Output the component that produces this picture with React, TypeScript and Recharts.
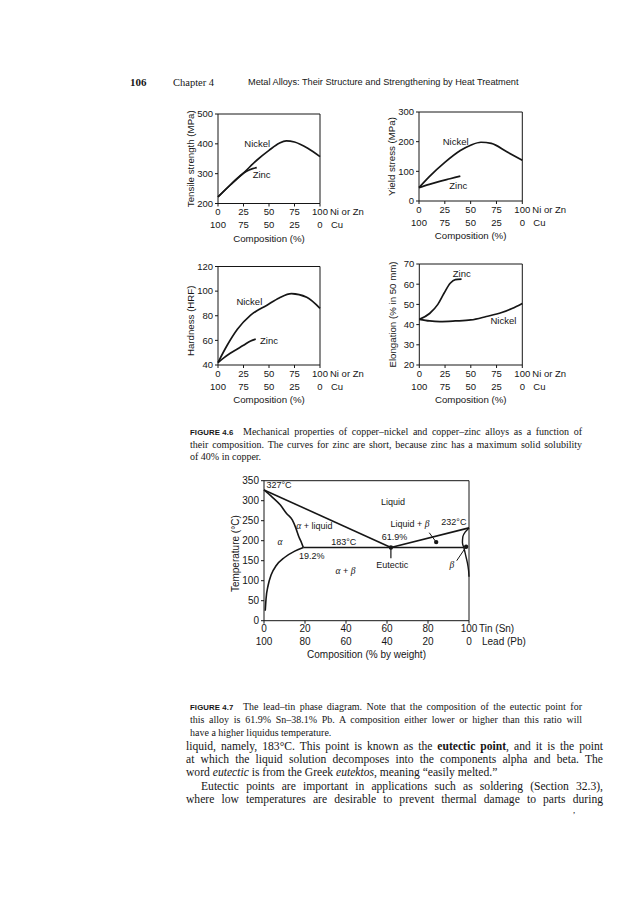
import React from "react";
import { LineChart, Line, XAxis, YAxis, ReferenceLine, ReferenceDot } from "recharts";

const SANS = "'Liberation Sans', Arial, sans-serif";
const SERIF = "'Liberation Serif', 'Times New Roman', serif";
const INK = "#161616";

// composition axis: % Ni or Zn (second row is % Cu)
const compTicks = [0, 25, 50, 75, 100];
// lead-tin axis: % Sn (second row is % Pb)
const snTicks = [0, 20, 40, 60, 80, 100];

const tensileTicks = [200, 300, 400, 500];
const yieldTicks = [0, 100, 200, 300];
const hardnessTicks = [40, 60, 80, 100, 120];
const elongTicks = [20, 30, 40, 50, 60, 70];
const tempTicks = [0, 50, 100, 150, 200, 250, 300, 350];

type P = [number, number];

// [composition %, value]
const tensileNi: P[] = [[0, 222], [12, 262], [25, 302], [38, 345], [50, 378], [60, 402], [67, 410], [75, 406], [88, 385], [100, 357]];
const tensileZn: P[] = [[0, 222], [12, 262], [22, 294], [28, 308], [34, 317], [38, 320]];
const yieldNi: P[] = [[0, 45], [10, 82], [25, 130], [40, 170], [50, 188], [60, 198], [70, 194], [85, 166], [100, 137]];
const yieldZn: P[] = [[0, 45], [10, 56], [20, 66], [30, 75], [40, 84]];
const hardNi: P[] = [[0, 42], [9, 56], [19, 69], [32, 80.5], [48, 88.6], [60, 94.5], [72, 98], [87, 95], [100, 86]];
const hardZn: P[] = [[0, 42], [6, 46], [12, 49.5], [25, 56], [32, 59.5], [37, 61]];
const elongNi: P[] = [[0, 42.6], [10, 41.8], [20, 41.5], [35, 41.8], [50, 42.3], [65, 44], [80, 46], [90, 48], [100, 50.5]];
const elongZn: P[] = [[0, 42.6], [10, 45.5], [18, 50], [24, 55.5], [30, 60.5], [35, 62.3], [41, 62.5]];

// lead-tin phase boundaries, [% Sn, deg C]
const liquidusLeft: P[] = [[0, 327], [61.9, 183]];
const liquidusRight: P[] = [[61.9, 183], [100, 232]];
const solidusLeft: P[] = [[0, 327], [4, 309], [8, 289], [11, 268], [13.8, 252], [15.5, 232], [17, 210], [18.3, 195], [19.2, 183]];
const eutecticLine: P[] = [[19.2, 183], [97.5, 183]];
const solvusLeft: P[] = [[0.6, 25], [1, 55], [2, 88], [3.5, 115], [6, 138], [10, 158], [15, 174], [19.2, 183]];
const solidusRight: P[] = [[97.5, 183], [96.8, 195], [97, 210], [98.2, 222], [100, 232]];
const solvusRight: P[] = [[100, 110], [99.8, 125], [99.2, 145], [98.3, 165], [97.5, 183]];
const eutecticStem: P[] = [[61.9, 183], [61.9, 156]];
const pointerLiquid: P[] = [[80.6, 220], [84, 196.5]];
const pointerBeta: P[] = [[94, 150], [98.5, 184]];
const phaseDots: P[] = [[61.9, 183], [84, 196.5], [98.6, 185]];

const toPts = (a: P[]) => a.map(([c, v]) => ({ c, v }));

function CompTick(props: any) {
  const { x, y, payload, end1, end2, fs, dx1, dx2 } = props;
  const v = Number(payload.value);
  const common = { fontSize: fs, fill: INK, fontFamily: SANS, dominantBaseline: "central" as const };
  return (
    <g>
      <text x={x} y={y + 5} textAnchor="middle" {...common}>{v}</text>
      <text x={x} y={y + 18} textAnchor="middle" {...common}>{100 - v}</text>
      {v === 100 && (
        <>
          <text x={x + dx1} y={y + 5} {...common}>{end1}</text>
          <text x={x + dx2} y={y + 18} {...common}>{end2}</text>
        </>
      )}
    </g>
  );
}

type Tag = { c: number; v: number; parts: [string, boolean][] };

const tagLabel = (parts: [string, boolean][], fs: number) => (lp: any) => {
  const vb = lp.viewBox || {};
  const x = (vb.x ?? vb.cx ?? 0) + (vb.width || 0) / 2;
  const y = (vb.y ?? vb.cy ?? 0) + (vb.height || 0) / 2;
  return (
    <text x={x} y={y} textAnchor="middle" dominantBaseline="central" fontSize={fs} fontFamily={SANS} fill={INK}>
      {parts.map(([s, it], i) =>
        it ? (
          <tspan key={i} fontFamily={SERIF} fontStyle="italic" fontSize={fs + 0.5}>{s}</tspan>
        ) : (
          <tspan key={i}>{s}</tspan>
        )
      )}
    </text>
  );
};

const Y_W = 40;
const X_H = 40;

type PanelProps = {
  left: number;
  top: number;
  width: number;
  height: number;
  plot: [number, number, number, number];
  yDomain: [number, number];
  yTicks: number[];
  yTitle: string;
  yTitleX: number;
  yTitleDy?: number;
  curves: P[][];
  tags: Tag[];
};

function Panel(p: PanelProps) {
  const [L, T, R, B] = p.plot;
  const margin = {
    left: L - p.left - Y_W,
    top: T - p.top,
    right: p.left + p.width - R,
    bottom: p.top + p.height - B - X_H,
  };
  const midY = (T + B) / 2 - p.top + (p.yTitleDy || 0);
  const midX = (L + R) / 2 - p.left;
  const bottomY = B - p.top;
  return (
    <div style={{ position: "absolute", left: p.left, top: p.top }}>
      <LineChart width={p.width} height={p.height} margin={margin}>
        <XAxis
          dataKey="c"
          type="number"
          domain={[0, 100]}
          ticks={compTicks}
          interval={0}
          tickSize={3}
          tickMargin={0}
          height={X_H}
          axisLine={{ stroke: INK }}
          tickLine={{ stroke: INK }}
          tick={<CompTick end1="Ni or Zn" end2="Cu" fs={9.5} dx1={10} dx2={11} />}
          label={() => (
            <text x={midX} y={bottomY + 34.5} textAnchor="middle" dominantBaseline="central" fontSize={9.7} fontFamily={SANS} fill={INK}>
              Composition (%)
            </text>
          )}
        />
        <YAxis
          type="number"
          domain={p.yDomain}
          ticks={p.yTicks}
          interval={0}
          width={Y_W}
          tickSize={3}
          tickMargin={2}
          axisLine={{ stroke: INK }}
          tickLine={{ stroke: INK }}
          tick={{ fontSize: 9.5, fill: INK, fontFamily: SANS }}
          label={() => (
            <text
              x={p.yTitleX - p.left}
              y={midY}
              transform={`rotate(-90 ${p.yTitleX - p.left} ${midY})`}
              textAnchor="middle"
              dominantBaseline="central"
              fontSize={9.7}
              fontFamily={SANS}
              fill={INK}
            >
              {p.yTitle}
            </text>
          )}
        />
        <ReferenceLine y={p.yDomain[1]} stroke={INK} />
        <ReferenceLine x={100} stroke={INK} />
        {p.curves.map((c, i) => (
          <Line key={i} data={toPts(c)} dataKey="v" type="monotone" stroke={INK} strokeWidth={1.7} dot={false} isAnimationActive={false} />
        ))}
        {p.tags.map((t, i) => (
          <ReferenceDot key={i} x={t.c} y={t.v} r={1} fill="none" stroke="none" label={tagLabel(t.parts, 9.5)} />
        ))}
      </LineChart>
    </div>
  );
}

const phaseTags: Tag[] = [
  { c: 7.3, v: 339, parts: [["327°C", false]] },
  { c: 62.9, v: 297.5, parts: [["Liquid", false]] },
  { c: 24.6, v: 237.5, parts: [["α", true], [" + liquid", false]] },
  { c: 71.2, v: 241.7, parts: [["Liquid + ", false], ["β", true]] },
  { c: 92.6, v: 247.5, parts: [["232°C", false]] },
  { c: 63.7, v: 210, parts: [["61.9%", false]] },
  { c: 38.9, v: 196, parts: [["183°C", false]] },
  { c: 7.8, v: 197.5, parts: [["α", true]] },
  { c: 23.3, v: 161.7, parts: [["19.2%", false]] },
  { c: 62.6, v: 139, parts: [["Eutectic", false]] },
  { c: 39.7, v: 125, parts: [["α", true], [" + ", false], ["β", true]] },
  { c: 91.6, v: 139, parts: [["β", true]] },
];

function PhaseDiagram() {
  const left = 220, top = 470, width = 340, height = 195;
  const [L, T, R, B] = [264, 480.7, 469, 620.7];
  const yw = 30;
  const margin = { left: L - left - yw, top: T - top, right: left + width - R, bottom: top + height - B - X_H };
  const midY = (T + B) / 2 - top;
  const midX = (L + R) / 2 - left;
  const segs: { d: P[]; type: any; w: number }[] = [
    { d: liquidusLeft, type: "linear", w: 1.6 },
    { d: liquidusRight, type: "linear", w: 1.6 },
    { d: solidusLeft, type: "monotone", w: 1.6 },
    { d: eutecticLine, type: "linear", w: 1.7 },
    { d: solvusLeft, type: "monotone", w: 1.6 },
    { d: solidusRight, type: "monotoneY", w: 1.4 },
    { d: solvusRight, type: "monotoneY", w: 1.4 },
    { d: eutecticStem, type: "linear", w: 1.2 },
    { d: pointerLiquid, type: "linear", w: 1 },
    { d: pointerBeta, type: "linear", w: 1 },
  ];
  return (
    <div style={{ position: "absolute", left, top }}>
      <LineChart width={width} height={height} margin={margin}>
        <XAxis
          dataKey="c"
          type="number"
          domain={[0, 100]}
          ticks={snTicks}
          interval={0}
          tickSize={3}
          tickMargin={0}
          height={X_H}
          axisLine={{ stroke: INK }}
          tickLine={{ stroke: INK }}
          tick={<CompTick end1="Tin (Sn)" end2="Lead (Pb)" fs={10} dx1={10} dx2={13} />}
          label={() => (
            <text x={midX} y={B - top + 33.5} textAnchor="middle" dominantBaseline="central" fontSize={10} fontFamily={SANS} fill={INK}>
              Composition (% by weight)
            </text>
          )}
        />
        <YAxis
          type="number"
          domain={[0, 350]}
          ticks={tempTicks}
          interval={0}
          width={yw}
          tickSize={3}
          tickMargin={2}
          axisLine={{ stroke: INK }}
          tickLine={{ stroke: INK }}
          tick={{ fontSize: 10, fill: INK, fontFamily: SANS }}
          label={() => (
            <text
              x={236 - left}
              y={midY + 3}
              transform={`rotate(-90 ${236 - left} ${midY + 3})`}
              textAnchor="middle"
              dominantBaseline="central"
              fontSize={10}
              fontFamily={SANS}
              fill={INK}
            >
              Temperature (°C)
            </text>
          )}
        />
        <ReferenceLine y={350} stroke={INK} />
        <ReferenceLine x={100} stroke={INK} />
        {segs.map((s, i) => (
          <Line key={i} data={toPts(s.d)} dataKey="v" type={s.type} stroke={INK} strokeWidth={s.w} dot={false} isAnimationActive={false} />
        ))}
        {phaseDots.map(([c, v], i) => (
          <ReferenceDot key={"d" + i} x={c} y={v} r={2.2} fill={INK} stroke="none" />
        ))}
        {phaseTags.map((t, i) => (
          <ReferenceDot key={"t" + i} x={t.c} y={t.v} r={1} fill="none" stroke="none" label={tagLabel(t.parts, 9)} />
        ))}
      </LineChart>
    </div>
  );
}

function TextLine({ x, y, w, size, lh = 13, justify = true, family = SERIF, children, style }: any) {
  return (
    <div
      style={{
        position: "absolute",
        left: x,
        top: y - lh / 2,
        width: w,
        fontFamily: family,
        fontSize: size,
        lineHeight: `${lh}px`,
        color: INK,
        textAlign: "left",
        textAlignLast: justify ? "justify" : "left",
        ...style,
      }}
    >
      {children}
    </div>
  );
}

const figTag = (s: string) => (
  <span
    style={{
      display: "inline-block",
      width: 53,
      fontFamily: SANS,
      fontWeight: 700,
      fontSize: 7.8,
      letterSpacing: 0.1,
      textAlign: "left",
      textAlignLast: "left",
      whiteSpace: "nowrap",
    }}
  >
    {s}
  </span>
);

export default function App() {
  return (
    <div style={{ position: "absolute", left: 0, top: 0, width: 636, height: 900, background: "#fff", overflow: "hidden" }}>
      {/* running head */}
      <TextLine x={130} y={82} w={30} size={11} justify={false} style={{ fontWeight: 700 }}>106</TextLine>
      <TextLine x={173} y={82} w={60} size={10.5} justify={false}>Chapter 4</TextLine>
      <TextLine x={248} y={82} w={290} size={9.2} justify={false} family={SANS}>
        Metal Alloys: Their Structure and Strengthening by Heat Treatment
      </TextLine>

      <Panel
        left={150}
        top={100}
        width={225}
        height={150}
        plot={[218, 114, 320, 203.5]}
        yDomain={[200, 500]}
        yTicks={tensileTicks}
        yTitle="Tensile strength (MPa)"
        yTitleX={190}
        curves={[tensileNi, tensileZn]}
        tags={[
          { c: 38.5, v: 404, parts: [["Nickel", false]] },
          { c: 42.8, v: 298, parts: [["Zinc", false]] },
        ]}
      />
      <Panel
        left={355}
        top={100}
        width={265}
        height={150}
        plot={[419, 112, 522.3, 201]}
        yDomain={[0, 300]}
        yTicks={yieldTicks}
        yTitle="Yield stress (MPa)"
        yTitleX={391}
        curves={[yieldNi, yieldZn]}
        tags={[
          { c: 35.5, v: 202, parts: [["Nickel", false]] },
          { c: 38, v: 54, parts: [["Zinc", false]] },
        ]}
      />
      <Panel
        left={150}
        top={255}
        width={225}
        height={155}
        plot={[218, 266.5, 320, 365]}
        yDomain={[40, 120]}
        yTicks={hardnessTicks}
        yTitle="Hardness (HRF)"
        yTitleX={190}
        yTitleDy={5}
        curves={[hardNi, hardZn]}
        tags={[
          { c: 30.7, v: 92, parts: [["Nickel", false]] },
          { c: 50, v: 60.3, parts: [["Zinc", false]] },
        ]}
      />
      <Panel
        left={355}
        top={255}
        width={265}
        height={155}
        plot={[419.3, 264, 522.3, 365]}
        yDomain={[20, 70]}
        yTicks={elongTicks}
        yTitle="Elongation (% in 50 mm)"
        yTitleX={392}
        curves={[elongNi, elongZn]}
        tags={[
          { c: 41.2, v: 65.4, parts: [["Zinc", false]] },
          { c: 81.6, v: 42.1, parts: [["Nickel", false]] },
        ]}
      />

      <TextLine x={190} y={431} w={392} size={10}>
        {figTag("FIGURE 4.6")}Mechanical properties of copper–nickel and copper–zinc alloys as a function of
      </TextLine>
      <TextLine x={190} y={444} w={392} size={10}>
        their composition. The curves for zinc are short, because zinc has a maximum solid solubility
      </TextLine>
      <TextLine x={190} y={456} w={392} size={10} justify={false}>
        of 40% in copper.
      </TextLine>

      <PhaseDiagram />

      <TextLine x={190} y={706} w={392} size={10}>
        {figTag("FIGURE 4.7")}The lead–tin phase diagram. Note that the composition of the eutectic point for
      </TextLine>
      <TextLine x={190} y={719} w={392} size={10}>
        this alloy is 61.9% Sn–38.1% Pb. A composition either lower or higher than this ratio will
      </TextLine>
      <TextLine x={190} y={732} w={392} size={10} justify={false}>
        have a higher liquidus temperature.
      </TextLine>

      <TextLine x={186} y={746} w={417} size={11.6}>
        liquid, namely, 183°C. This point is known as the <b>eutectic point</b>, and it is the point
      </TextLine>
      <TextLine x={186} y={759} w={417} size={11.6}>
        at which the liquid solution decomposes into the components alpha and beta. The
      </TextLine>
      <TextLine x={186} y={772} w={417} size={11.6} justify={false}>
        word <i>eutectic</i> is from the Greek <i>eutektos</i>, meaning “easily melted.”
      </TextLine>
      <TextLine x={201} y={786} w={402} size={11.6}>
        Eutectic points are important in applications such as soldering (Section 32.3),
      </TextLine>
      <TextLine x={186} y={799} w={417} size={11.6}>
        where low temperatures are desirable to prevent thermal damage to parts during
      </TextLine>
      <TextLine x={573} y={810} w={10} size={9} justify={false}>,</TextLine>
    </div>
  );
}
